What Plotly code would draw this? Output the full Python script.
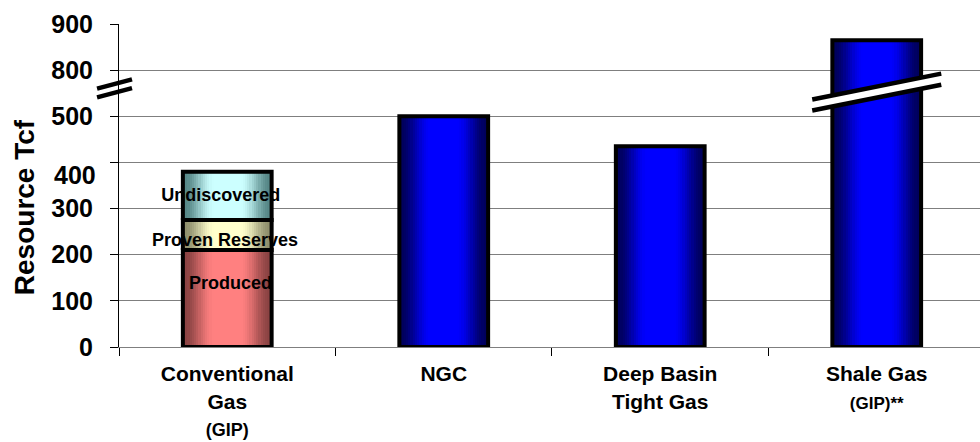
import plotly.graph_objects as go

# ---- data (Tcf) ----
categories = ["Conventional Gas (GIP)", "NGC", "Deep Basin Tight Gas", "Shale Gas (GIP)**"]
category_labels = [
    "Conventional<br>Gas<br><span style='font-size:18px'>(GIP)</span>",
    "NGC",
    "Deep Basin<br>Tight Gas",
    "Shale Gas<br><span style='font-size:17px'>(GIP)**</span>",
]
conventional_parts = ["Produced", "Proven Reserves", "Undiscovered"]
conventional_values = [210, 65, 105]
other_values = [500, 435, 865]          # NGC, Deep Basin Tight Gas, Shale Gas
y_tick_values = [0, 100, 200, 300, 400, 500, 800, 900]

# axis break: everything above 500 is shifted down by 200 on the drawn scale
BREAK_AT = 500
BREAK_GAP = 200


def drawn(v):
    return v if v <= BREAK_AT else v - BREAK_GAP


# ---- styles ----
FONT = "Liberation Sans, Arial, sans-serif"
BAR_W = 0.41
N_LAYERS = 20
palettes = {
    "Produced": ((0x8a, 0x42, 0x42), (0xff, 0x80, 0x80)),
    "Proven Reserves": ((0x8e, 0x8e, 0x6c), (0xff, 0xff, 0xcc)),
    "Undiscovered": ((0x55, 0x86, 0x86), (0xcc, 0xff, 0xff)),
    "blue": ((0x00, 0x00, 0x5a), (0x00, 0x00, 0xff)),
}
label_frac = {"Produced": 0.64, "Proven Reserves": 0.28, "Undiscovered": 0.48}
label_dx = {"Produced": 0.015, "Proven Reserves": -0.01, "Undiscovered": -0.03}

# ---- segments (x, base, height, palette) ----
segments = []
base = 0
for part, val in zip(conventional_parts, conventional_values):
    segments.append((0, base, val, part))
    base += val
for i, val in enumerate(other_values, start=1):
    segments.append((i, 0, drawn(val), "blue"))


def mix(a, b, t):
    return "rgb(%d,%d,%d)" % tuple(round(a[j] + (b[j] - a[j]) * t) for j in range(3))


fig = go.Figure()

# horizontal shading: stacked narrower bars, brightest in the middle
for k in range(N_LAYERS):
    t = min(1.0, k / (0.72 * (N_LAYERS - 1)))
    t = t * t * (3 - 2 * t)
    frac = 1 - k / N_LAYERS
    fig.add_trace(go.Bar(
        x=[s[0] for s in segments],
        y=[s[2] for s in segments],
        base=[s[1] for s in segments],
        width=[BAR_W * frac] * len(segments),
        marker=dict(color=[mix(*palettes[s[3]], t) for s in segments], line=dict(width=0)),
        showlegend=False, hoverinfo="skip",
    ))

# labels of the conventional gas components
lx, ly, lt = [], [], []
base = 0
for part, val in zip(conventional_parts, conventional_values):
    lx.append(0 + label_dx[part])
    ly.append(base + val * label_frac[part])
    lt.append(part)
    base += val
fig.add_trace(go.Scatter(
    x=lx, y=ly, text=lt, mode="text", textposition="middle center",
    textfont=dict(family=FONT, size=18, color="black", weight="bold"),
    cliponaxis=False, showlegend=False, hoverinfo="skip",
))

# black outlines of every bar segment
ox, oy = [], []
for x, b, h, _ in segments:
    l, r = x - BAR_W / 2, x + BAR_W / 2
    ox += [l, l, r, r, l, None]
    oy += [b, b + h, b + h, b, b, None]
fig.add_trace(go.Scatter(
    x=ox, y=oy, mode="lines", line=dict(color="black", width=4),
    cliponaxis=False, showlegend=False, hoverinfo="skip",
))


# break marks: on the value axis and across the shale gas bar
def break_lines(xref, xc, half_w, y_up, y_lo, rise, fill):
    shapes = []
    if fill:
        shapes.append(dict(
            type="path", xref=xref, yref="y", layer="above",
            path=f"M {xc-half_w},{y_lo-rise} L {xc+half_w},{y_lo+rise} "
                 f"L {xc+half_w},{y_up+rise} L {xc-half_w},{y_up-rise} Z",
            fillcolor="white", line=dict(width=0)))
    for yc in (y_up, y_lo):
        shapes.append(dict(
            type="line", xref=xref, yref="y", layer="above",
            x0=xc - half_w, y0=yc - rise, x1=xc + half_w, y1=yc + rise,
            line=dict(color="black", width=4.5)))
    return shapes


shapes = []
shapes += break_lines("paper", -0.0052, 0.0203, 570, 551, 10, False)
shapes += break_lines("x", 3.0, 0.298, 564.5, 540.5, 28, True)

tickvals = [drawn(v) for v in y_tick_values]
ticktext = [str(v) if v != 400 else "" for v in y_tick_values]

fig.update_layout(
    width=980, height=442,
    margin=dict(l=119, r=0, t=24, b=95),
    paper_bgcolor="white", plot_bgcolor="white",
    barmode="overlay", bargap=0,
    shapes=shapes,
    font=dict(family=FONT, color="black"),
    annotations=[
        dict(text="<b>400</b>", xref="paper", yref="y", x=0, y=373,
             xanchor="right", yanchor="middle", xshift=-21, showarrow=False,
             font=dict(family=FONT, size=25, color="black")),
        dict(text="<b>Resource Tcf</b>", xref="paper", yref="y", x=0, y=303,
             xanchor="center", yanchor="middle", xshift=-95, textangle=-90,
             showarrow=False, font=dict(family=FONT, size=28, color="black")),
    ],
)
fig.update_xaxes(
    range=[-0.5, 3.477],
    tickvals=list(range(len(categories))), ticktext=category_labels,
    ticks="", ticklabelstandoff=8,
    tickfont=dict(family=FONT, size=21, color="black", weight="bold"),
    showline=True, linecolor="#7f7f7f", linewidth=1,
    showgrid=False, zeroline=False,
    minor=dict(tickvals=[i - 0.5 for i in range(len(categories) + 1)],
               ticks="outside", ticklen=8, tickcolor="black", tickwidth=1,
               showgrid=False),
)
fig.update_yaxes(
    range=[0, drawn(900)],
    tickvals=tickvals, ticktext=ticktext,
    ticks="outside", ticklen=8, tickcolor="black", tickwidth=1,
    ticklabelstandoff=12,
    tickfont=dict(family=FONT, size=25, color="black", weight="bold"),
    showline=True, linecolor="black", linewidth=1,
    showgrid=True, gridcolor="#7f7f7f", gridwidth=1, zeroline=False,
)

fig.write_html("out.html")
